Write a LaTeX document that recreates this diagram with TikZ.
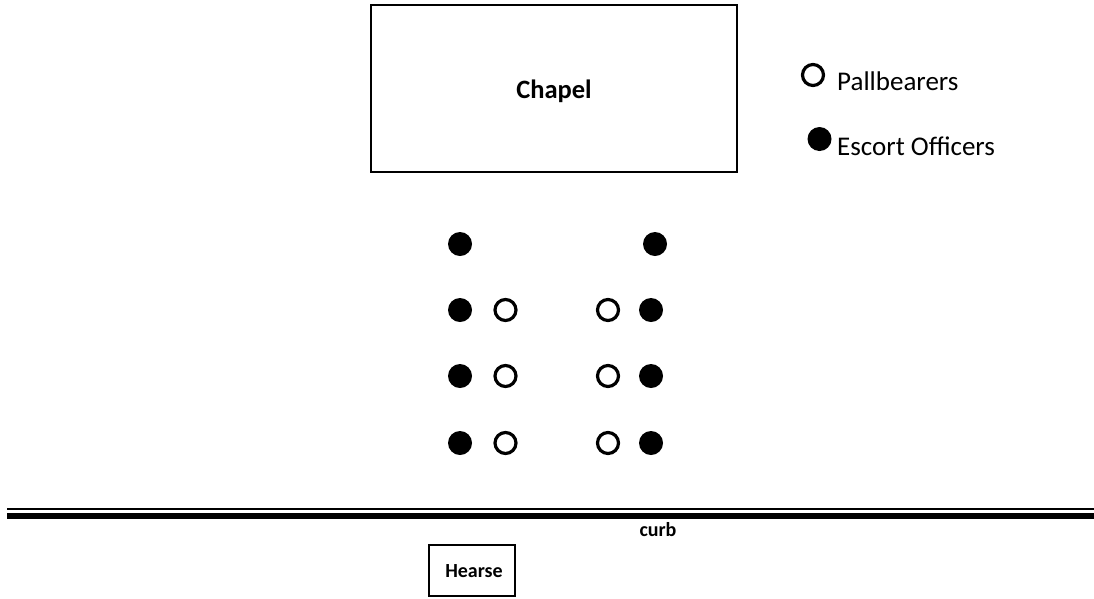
\documentclass[tikz,border=0pt]{standalone}
\usepackage{fontspec}
\setmainfont{Carlito}
\begin{document}
\begin{tikzpicture}[x=1pt,y=-1pt,
  boxline/.style={draw=black,line width=2pt},
  escort/.style={circle,fill=black,minimum size=24pt,inner sep=0pt},
  bearer/.style={circle,draw=black,line width=3.2pt,minimum size=21pt,inner sep=0pt},
  legendtext/.style={anchor=base west,inner sep=0pt,font=\fontsize{27}{30}\selectfont},
  boldtext/.style={anchor=base,inner sep=0pt,font=\bfseries\fontsize{#1}{#1}\selectfont}]
\useasboundingbox[fill=white] (0,0) rectangle (1094,598);
% chapel
\draw[boxline] (371,5) rectangle (737,172);
\node[boldtext=26.5] (chapel) at (554,98) {Chapel};
% legend
\node[bearer] (lb) at (813,75) {};
\node[legendtext] (lbt) at (837,90) {Pallbearers};
\node[escort] (le) at (819.5,139) {};
\node[legendtext] (let) at (837,155) {Escort Officers};
% formation
\node[escort] (e1l) at (460,244) {};
\node[escort] (e1r) at (655,244) {};
\foreach \r/\y in {2/310,3/376,4/443}{
  \node[escort] (e\r l) at (460,\y) {};
  \node[bearer] (b\r l) at (505.5,\y) {};
  \node[bearer] (b\r r) at (608,\y) {};
  \node[escort] (e\r r) at (651,\y) {};
}
% curb
\coordinate (cl1) at (7,508.5);
\coordinate (cr1) at (1094,508.5);
\coordinate (cl2) at (7,516);
\coordinate (cr2) at (1094,516);
\draw[line width=2pt] (cl1) -- (cr1);
\draw[line width=6.5pt] (cl2) -- (cr2);
\node[boldtext=20] (curb) at (658,536.5) {curb};
% hearse
\draw[boxline] (429,545) rectangle (515,596);
\node[boldtext=20] (hearse) at (474,577) {Hearse};
\end{tikzpicture}
\end{document}
